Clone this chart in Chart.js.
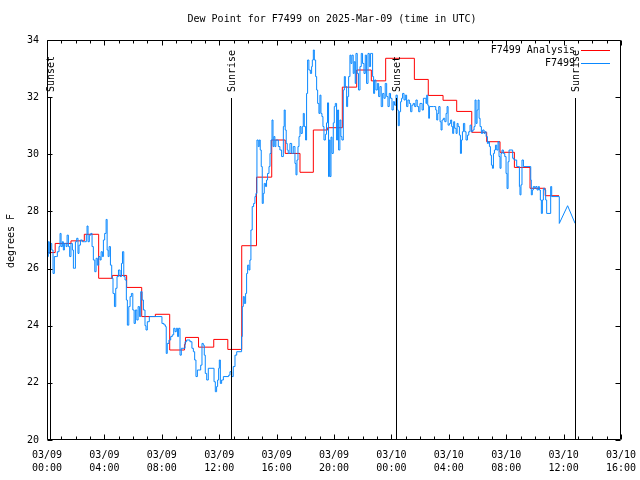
<!DOCTYPE html>
<html>
<head>
<meta charset="utf-8">
<script src="https://cdn.jsdelivr.net/npm/chart.js@4/dist/chart.umd.min.js"></script>
<style>
html,body{margin:0;padding:0;background:#fff;}
canvas{display:block;}
</style>
</head>
<body>
<canvas id="c" width="640" height="480"></canvas>
<script>
// ---- data (hours since 03/09 00:00 UTC) ----
const titleText = 'Dew Point for F7499 on 2025-Mar-09 (time in UTC)';
const yTitle = 'degrees F';
const seriesNames = ['F7499 Analysis', 'F7499'];

const xTickHours = [0, 4, 8, 12, 16, 20, 24, 28, 32, 36, 40];
const xTickDates = ['03/09', '03/09', '03/09', '03/09', '03/09', '03/09', '03/10', '03/10', '03/10', '03/10', '03/10'];
const xTickTimes = ['00:00', '04:00', '08:00', '12:00', '16:00', '20:00', '00:00', '04:00', '08:00', '12:00', '16:00'];
const yTicks = [20, 22, 24, 26, 28, 30, 32, 34];

const sunLabels = ['Sunset', 'Sunrise', 'Sunset', 'Sunrise'];
const sunHours = [0.24, 12.8, 24.32, 36.82];

const analysisHours = [0, 0.57, 1.67, 2.6, 3.6, 4.55, 5.55, 6.6, 7.55, 8.55, 9.58, 9.65, 10.56, 11.62, 12.6, 13.57, 14.6, 15.66, 16.6, 17.63, 18.56, 19.56, 20.58, 21.58, 22.6, 23.6, 24.6, 25.6, 26.57, 27.6, 28.55, 29.6, 30.64, 31.57, 32.57, 33.66, 34.72, 35.68];
const analysisValues = [26.56, 26.88, 26.97, 27.2, 25.66, 25.76, 25.34, 24.32, 24.4, 23.15, 23.35, 23.59, 23.25, 23.52, 23.17, 26.8, 29.2, 30.5, 30.03, 29.37, 30.85, 30.93, 32.35, 32.95, 32.57, 33.36, 33.36, 32.62, 32.06, 31.89, 31.5, 30.77, 30.44, 30.07, 29.54, 28.81, 28.55, 28.55];

const obsHours = [
  0.00, 0.05, 0.09, 0.16, 0.23, 0.33, 0.42, 0.51, 0.65, 0.72, 0.84, 0.91, 0.98, 1.07, 1.14, 1.21, 1.33, 1.40, 1.49, 1.58,
  1.67, 1.77, 1.84, 1.93, 1.98, 2.07, 2.16, 2.23, 2.33, 2.46, 2.60, 2.74, 2.79, 2.86, 2.95, 3.05, 3.14, 3.23, 3.33, 3.42,
  3.51, 3.60, 3.70, 3.77, 3.86, 3.93, 4.02, 4.12, 4.19, 4.26, 4.33, 4.42, 4.51, 4.60, 4.70, 4.79, 4.88, 4.98, 5.09, 5.19,
  5.26, 5.35, 5.44, 5.53, 5.60, 5.70, 5.79, 5.88, 5.98, 6.07, 6.16, 6.26, 6.35, 6.44, 6.53, 6.63, 6.72, 6.83, 6.90, 6.99,
  7.13, 8.01, 8.15, 8.25, 8.31, 8.38, 8.50, 8.62, 8.73, 8.83, 8.92, 9.01, 9.10, 9.17, 9.27, 9.36, 9.62, 9.73, 9.96, 10.10,
  10.20, 10.29, 10.38, 10.48, 10.71, 10.80, 10.89, 10.96, 11.03, 11.13, 11.24, 11.64, 11.73, 11.82, 11.89, 11.96, 12.01, 12.08, 12.17, 12.29,
  12.66, 12.75, 12.87, 12.98, 13.10, 13.22, 13.56, 13.61, 13.68, 13.75, 13.84, 13.91, 13.98, 14.07, 14.14, 14.21, 14.30, 14.40, 14.49, 14.56,
  14.63, 14.72, 14.79, 14.86, 14.93, 15.00, 15.07, 15.14, 15.23, 15.30, 15.37, 15.47, 15.54, 15.61, 15.68, 15.75, 15.81, 15.88, 15.95, 16.12,
  16.23, 16.35, 16.47, 16.53, 16.60, 16.67, 16.74, 16.81, 16.93, 17.05, 17.16, 17.28, 17.35, 17.42, 17.49, 17.56, 17.63, 17.70, 17.79, 17.86,
  17.93, 18.02, 18.09, 18.16, 18.25, 18.35, 18.44, 18.49, 18.56, 18.63, 18.72, 18.79, 18.86, 18.95, 19.02, 19.09, 19.16, 19.23, 19.30, 19.40,
  19.48, 19.55, 19.62, 19.67, 19.72, 19.79, 19.86, 19.95, 20.02, 20.09, 20.18, 20.25, 20.32, 20.41, 20.48, 20.55, 20.65, 20.72, 20.79, 20.88,
  20.95, 21.02, 21.11, 21.18, 21.25, 21.34, 21.41, 21.48, 21.53, 21.62, 21.71, 21.81, 21.90, 21.99, 22.09, 22.18, 22.27, 22.37, 22.46, 22.55,
  22.64, 22.69, 22.76, 22.83, 22.92, 23.02, 23.11, 23.20, 23.29, 23.39, 23.48, 23.57, 23.67, 23.76, 23.85, 23.94, 24.04, 24.13, 24.22, 24.32,
  24.41, 24.48, 24.55, 24.64, 24.71, 24.78, 24.88, 24.97, 25.06, 25.15, 25.25, 25.34, 25.43, 25.52, 25.62, 25.71, 25.80, 25.90, 25.99, 26.07,
  26.14, 26.23, 26.35, 26.41, 26.46, 26.53, 26.60, 26.65, 26.93, 27.09, 27.16, 27.23, 27.30, 27.39, 27.46, 27.53, 27.62, 27.72, 27.81, 27.88,
  27.95, 28.04, 28.13, 28.20, 28.27, 28.34, 28.41, 28.51, 28.58, 28.65, 28.74, 28.81, 28.88, 28.95, 29.02, 29.11, 29.20, 29.30, 29.39, 29.48,
  29.57, 29.67, 29.76, 29.83, 29.90, 29.97, 30.04, 30.11, 30.18, 30.27, 30.36, 30.46, 30.53, 30.60, 30.69, 30.76, 30.83, 30.90, 30.97, 31.04,
  31.11, 31.18, 31.25, 31.34, 31.43, 31.50, 31.57, 31.64, 31.71, 31.80, 31.90, 31.99, 32.06, 32.13, 32.20, 32.45, 32.55, 32.73, 32.83, 32.92,
  32.96, 33.03, 33.10, 33.20, 33.71, 33.75, 33.82, 33.89, 33.99, 34.06, 34.15, 34.24, 34.31, 34.38, 34.45, 34.52, 34.59, 34.68, 34.75, 34.82,
  35.10, 35.17, 35.70
];
const obsValues = [
  26.71, 26.42, 26.94, 26.53, 26.88, 26.65, 25.83, 26.42, 26.42, 26.59, 26.77, 27.23, 26.77, 26.94, 26.65, 26.88, 26.77, 27.17, 26.77, 26.42,
  26.88, 26.65, 26.01, 26.01, 26.94, 27.06, 26.53, 26.82, 27.00, 26.94, 26.94, 27.17, 27.49, 26.94, 27.17, 27.23, 26.77, 26.30, 25.89, 26.36,
  26.12, 26.42, 26.30, 26.59, 26.42, 27.00, 27.23, 27.72, 26.65, 26.42, 26.77, 26.12, 25.66, 25.13, 24.67, 25.31, 25.72, 25.95, 25.72, 26.18,
  26.59, 25.72, 25.60, 24.90, 24.02, 24.67, 25.02, 25.13, 24.55, 24.08, 24.55, 24.20, 24.67, 24.32, 25.19, 24.90, 24.55, 24.00, 23.85, 24.14,
  24.32, 24.08, 24.03, 23.97, 23.03, 23.38, 23.50, 23.62, 23.68, 23.91, 23.79, 23.91, 23.62, 23.91, 22.97, 23.21, 23.44, 23.50, 23.44, 23.21,
  23.09, 22.80, 22.22, 22.45, 22.62, 23.38, 23.32, 22.97, 22.33, 22.10, 22.51, 22.04, 21.69, 21.87, 22.10, 22.51, 22.80, 21.98, 22.10, 22.22,
  22.27, 22.39, 22.22, 22.57, 22.97, 23.09, 23.62, 24.67, 25.02, 24.78, 25.13, 25.83, 26.12, 25.95, 26.30, 27.35, 28.17, 28.28, 28.52, 28.63,
  30.50, 30.27, 30.50, 30.15, 29.57, 28.28, 28.63, 28.98, 28.87, 29.10, 29.33, 29.57, 30.03, 30.50, 31.20, 30.27, 30.62, 30.27, 30.50, 30.27,
  30.15, 29.92, 30.97, 31.55, 30.85, 30.38, 30.15, 30.03, 30.38, 30.03, 30.27, 29.68, 29.28, 29.80, 30.27, 30.62, 30.97, 30.73, 30.97, 31.43,
  30.97, 30.50, 32.13, 33.30, 32.95, 32.83, 33.07, 33.30, 33.65, 33.30, 32.72, 32.25, 31.78, 31.43, 32.07, 31.43, 31.32, 30.97, 30.50, 30.70,
  31.10, 31.80, 29.22, 30.50, 29.22, 30.60, 30.03, 31.10, 31.67, 31.78, 30.50, 31.55, 30.15, 31.20, 30.62, 30.50, 32.25, 32.72, 32.37, 31.67,
  32.02, 32.72, 33.47, 33.18, 33.47, 32.83, 33.24, 32.48, 33.53, 32.83, 32.25, 33.07, 33.53, 33.18, 32.83, 33.47, 32.48, 33.53, 33.07, 33.53,
  33.53, 32.72, 32.13, 32.60, 32.25, 32.48, 32.02, 32.37, 31.67, 32.13, 31.96, 32.48, 32.02, 31.67, 32.13, 31.96, 31.55, 31.84, 31.72, 32.07,
  31.55, 31.00, 31.49, 31.84, 31.96, 32.13, 31.90, 32.07, 31.67, 31.90, 31.78, 31.49, 31.72, 31.78, 31.67, 31.90, 31.67, 31.49, 31.78, 31.78,
  31.55, 31.96, 31.96, 31.78, 32.07, 31.72, 31.26, 31.67, 31.67, 31.55, 31.20, 31.43, 31.67, 31.14, 30.85, 31.20, 31.26, 31.14, 31.43, 31.67,
  31.02, 31.08, 31.20, 30.97, 30.73, 31.14, 30.91, 30.73, 31.08, 30.97, 30.67, 30.03, 30.50, 30.79, 31.08, 30.79, 30.50, 30.67, 30.79, 31.02,
  30.79, 30.85, 30.97, 31.90, 31.08, 31.55, 31.90, 31.26, 30.97, 30.73, 30.85, 30.73, 30.79, 30.62, 30.38, 30.44, 30.27, 29.97, 29.62, 29.51,
  30.03, 30.15, 30.32, 30.15, 30.44, 29.92, 29.51, 30.03, 30.15, 30.03, 29.92, 29.33, 28.80, 29.74, 30.15, 29.86, 29.80, 29.57, 29.57, 28.87,
  28.58, 28.93, 29.80, 29.57, 29.10, 28.58, 28.75, 28.87, 28.81, 28.87, 28.75, 28.87, 28.75, 28.40, 27.93, 28.40, 28.81, 28.75, 28.40, 27.93,
  28.87, 28.52, 27.58
];
const tailHours = [35.70, 36.28, 36.80];
const tailValues = [27.58, 28.20, 27.58];

// ---- chart ----
const FONT = '"DejaVu Sans Mono", "Liberation Mono", monospace';
const BLUE = '#0a88ff';
const RED = '#ff0000';

const toXY = (xs, ys) => xs.map((h, i) => ({x: h, y: ys[i]}));

const gnuFrame = {
  id: 'gnuFrame',
  afterDatasetsDraw(chart) {
    const {ctx, chartArea: a, scales: {x, y}} = chart;
    const L = Math.round(a.left) + 0.5, R = Math.round(a.right) - 0.5;
    const T = Math.round(a.top) + 0.5, B = Math.round(a.bottom) - 0.5;
    ctx.save();
    ctx.strokeStyle = '#000';
    ctx.fillStyle = '#000';
    ctx.lineWidth = 1;
    ctx.font = '10px ' + FONT;

    // sunrise / sunset markers
    sunHours.forEach((h, i) => {
      const px = Math.round(x.getPixelForValue(h)) + 0.5;
      ctx.beginPath();
      ctx.moveTo(px, a.top + 58);
      ctx.lineTo(px, B);
      ctx.stroke();
      ctx.save();
      ctx.translate(px + 1, a.top + 52);
      ctx.rotate(-Math.PI / 2);
      ctx.textAlign = 'left';
      ctx.textBaseline = 'middle';
      ctx.fillText(sunLabels[i], 0, 0);
      ctx.restore();
    });

    // border
    ctx.beginPath();
    ctx.rect(L, T, R - L, B - T);
    ctx.stroke();

    // inward ticks
    ctx.beginPath();
    for (let h = x.min; h <= x.max; h += 1) {
      const px = Math.round(x.getPixelForValue(h)) + 0.5;
      const len = (h % 4 === 0) ? 5 : 3;
      ctx.moveTo(px, B); ctx.lineTo(px, B - len);
      ctx.moveTo(px, T); ctx.lineTo(px, T + len);
    }
    yTicks.forEach(v => {
      const py = Math.round(y.getPixelForValue(v)) + 0.5;
      ctx.moveTo(L, py); ctx.lineTo(L + 5, py);
      ctx.moveTo(R, py); ctx.lineTo(R - 5, py);
    });
    ctx.stroke();

    // title
    ctx.textAlign = 'center';
    ctx.textBaseline = 'middle';
    ctx.fillText(titleText, (a.left + a.right) / 2 - 2, 19);

    // y axis title
    ctx.save();
    ctx.translate(11, (a.top + a.bottom) / 2 + 1);
    ctx.rotate(-Math.PI / 2);
    ctx.textAlign = 'center';
    ctx.textBaseline = 'middle';
    ctx.fillText(yTitle, 0, 0);
    ctx.restore();

    // key
    const colors = [RED, BLUE];
    seriesNames.forEach((name, i) => {
      const ky = a.top + 9.5 + i * 13;
      ctx.fillStyle = '#000';
      ctx.textAlign = 'right';
      ctx.textBaseline = 'middle';
      ctx.fillText(name, a.right - 46, ky + 1);
      ctx.strokeStyle = colors[i];
      ctx.beginPath();
      ctx.moveTo(a.right - 40, Math.round(ky) + 0.5);
      ctx.lineTo(a.right - 11, Math.round(ky) + 0.5);
      ctx.stroke();
    });
    ctx.restore();
  }
};

new Chart(document.getElementById('c'), {
  type: 'line',
  data: {
    datasets: [
      {
        label: seriesNames[0],
        data: toXY(analysisHours, analysisValues),
        borderColor: RED, borderWidth: 1, pointRadius: 0, stepped: true, order: 2
      },
      {
        label: seriesNames[1],
        data: toXY(obsHours, obsValues),
        borderColor: BLUE, borderWidth: 1, pointRadius: 0, stepped: true, order: 1
      },
      {
        label: seriesNames[1] + ' tail',
        data: toXY(tailHours, tailValues),
        borderColor: BLUE, borderWidth: 1, pointRadius: 0, stepped: false, order: 1
      }
    ]
  },
  options: {
    responsive: false,
    animation: false,
    events: [],
    layout: {padding: {top: 40, right: 19, bottom: 0, left: 0}},
    plugins: {legend: {display: false}, title: {display: false}, tooltip: {enabled: false}},
    scales: {
      x: {
        type: 'linear', min: 0, max: 40,
        border: {display: false},
        grid: {display: false, drawTicks: false},
        ticks: {
          stepSize: 4, maxRotation: 0, autoSkip: false, padding: 9,
          color: '#000', font: {family: FONT, size: 10, lineHeight: 1.3},
          callback: (v) => {
            const i = xTickHours.indexOf(v);
            return i >= 0 ? [xTickDates[i], xTickTimes[i]] : '';
          }
        },
        afterFit: (s) => { s.height = 40; s.paddingLeft = 0; s.paddingRight = 0; }
      },
      y: {
        type: 'linear', min: 20, max: 34,
        border: {display: false},
        grid: {display: false, drawTicks: false},
        ticks: {
          stepSize: 2, padding: 8, color: '#000',
          font: {family: FONT, size: 10},
          callback: (v) => yTicks.includes(v) ? String(v) : ''
        },
        afterFit: (s) => { s.width = 47; s.paddingTop = 0; s.paddingBottom = 0; }
      }
    }
  },
  plugins: [gnuFrame]
});
</script>
</body>
</html>
